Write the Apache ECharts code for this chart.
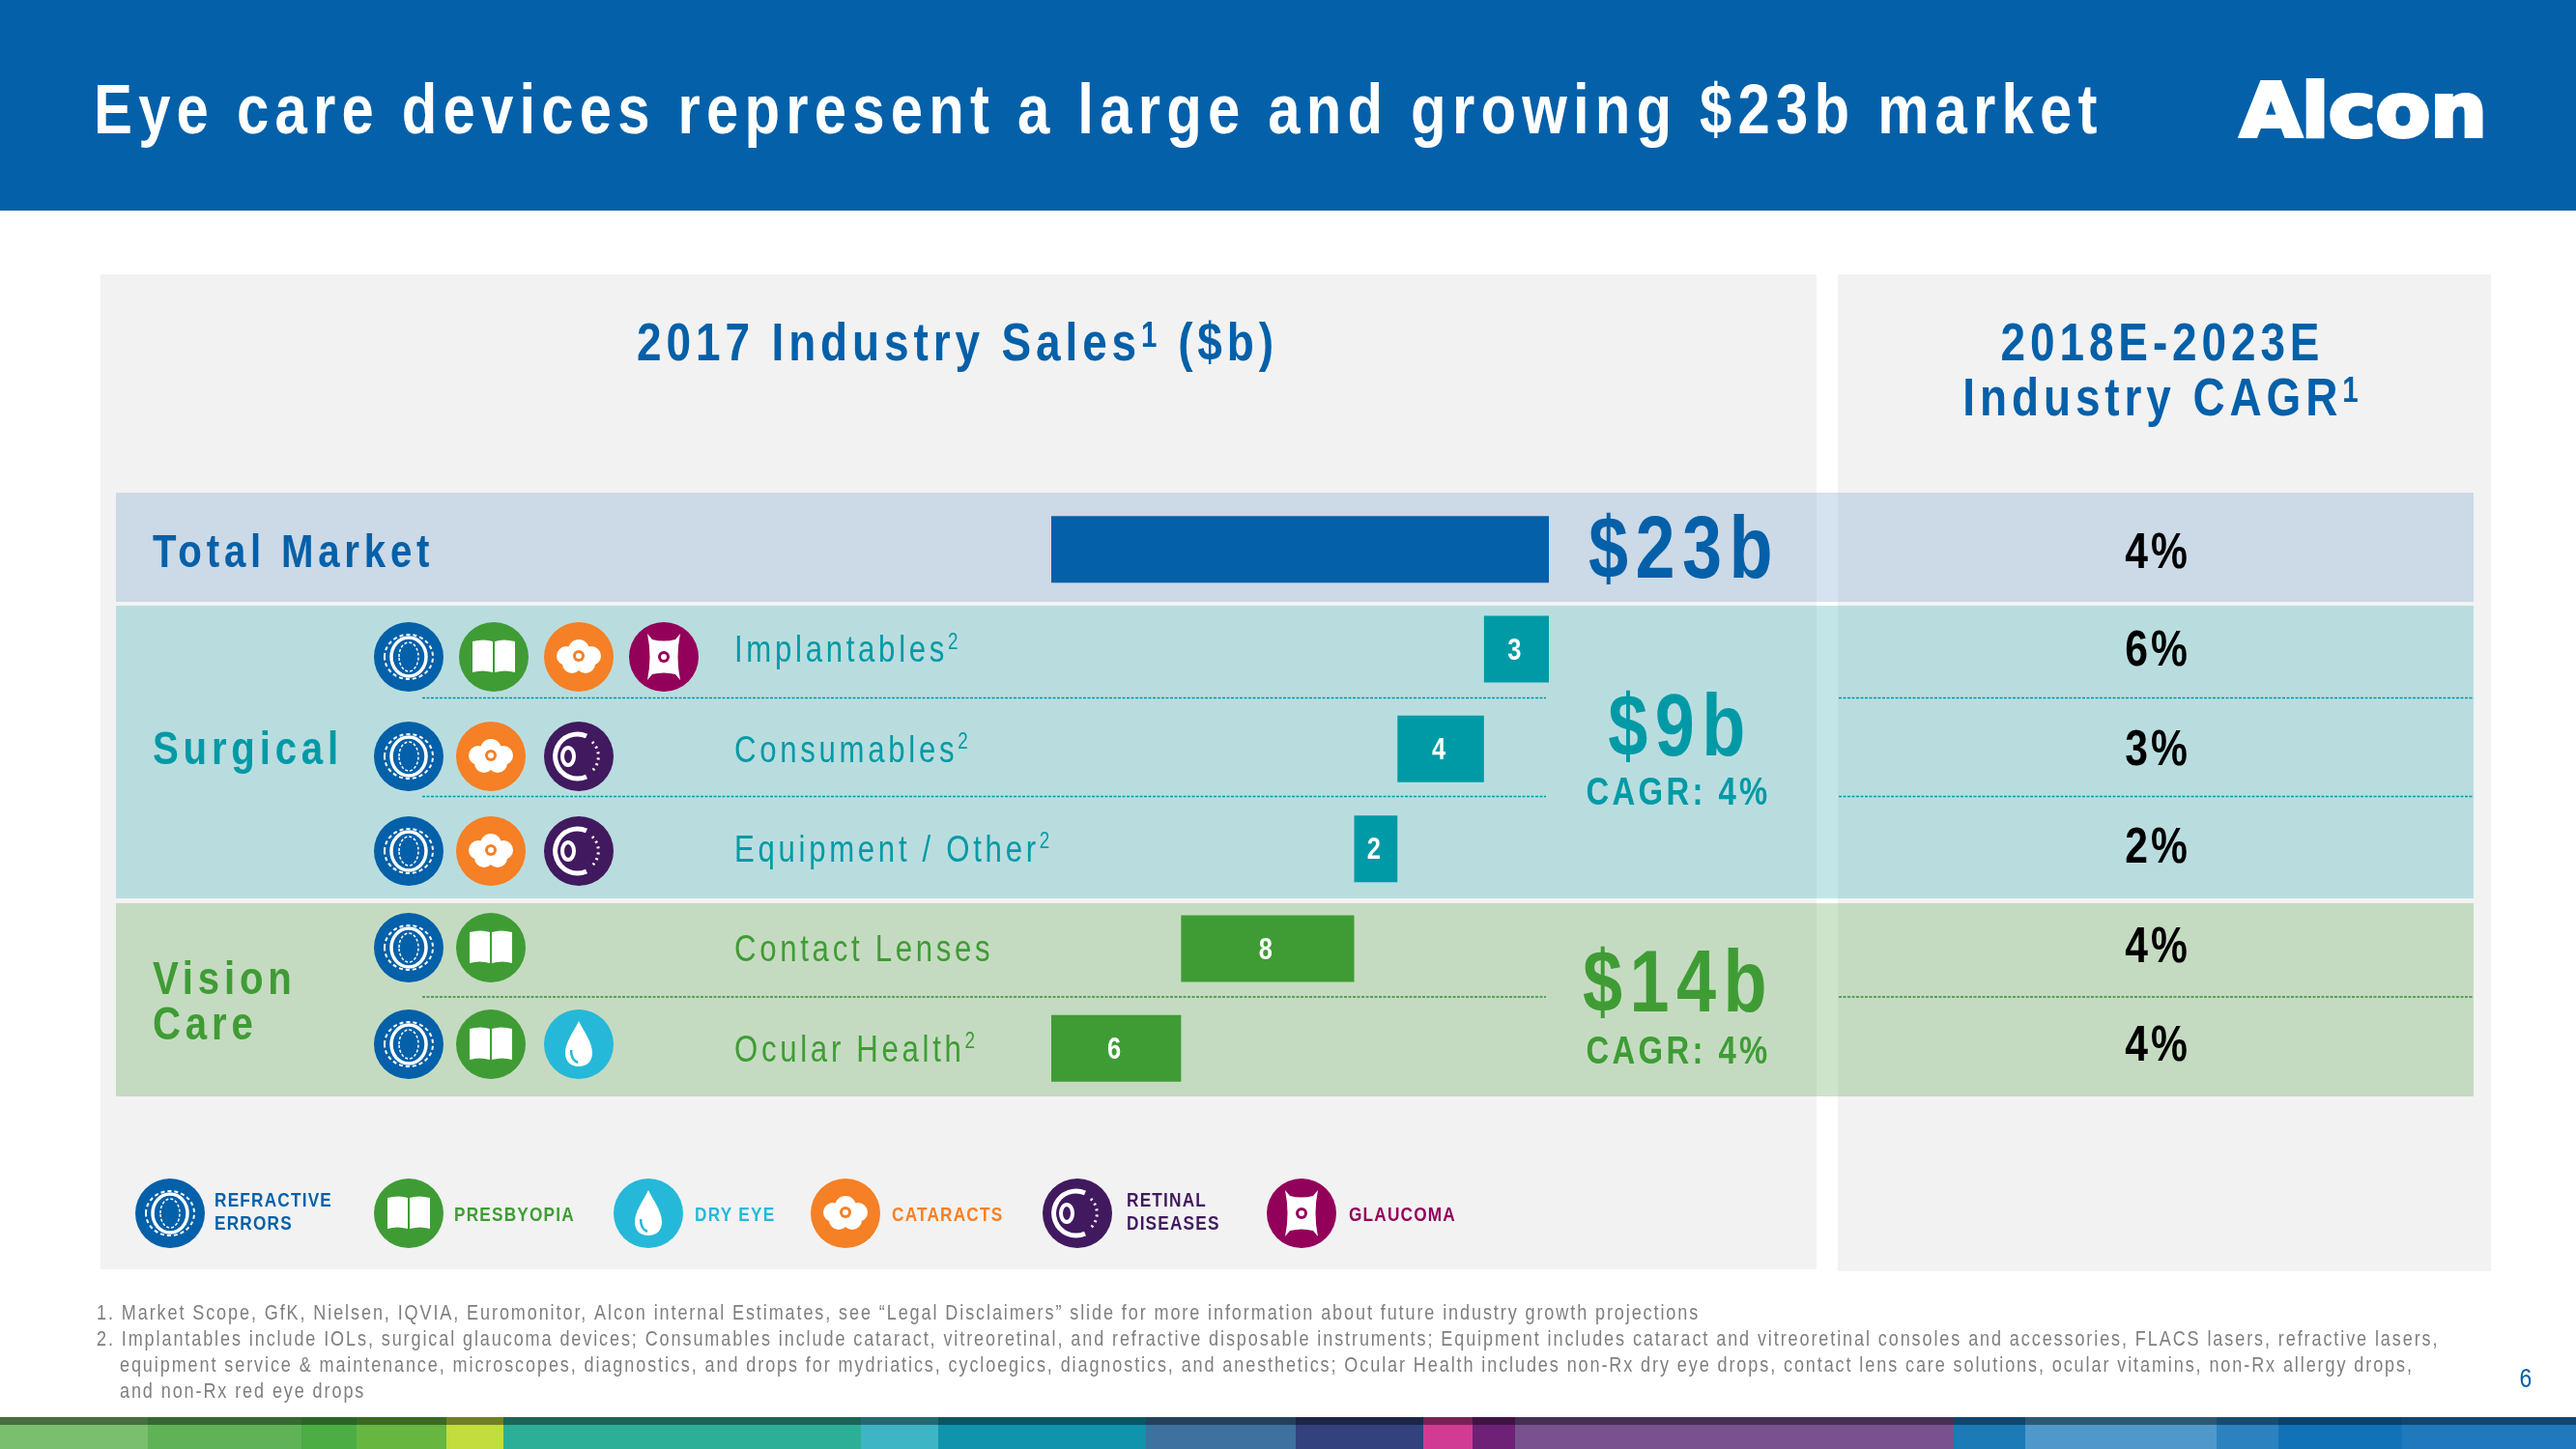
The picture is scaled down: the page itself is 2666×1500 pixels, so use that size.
<!DOCTYPE html>
<html><head><meta charset="utf-8">
<style>html,body{margin:0;padding:0;background:#fff}#c{width:2666px;height:1500px}</style>
<script>
// reference type is a narrow Arial, letter-spaced: condense Liberation Sans and track by font size
(function(){
  var p=CanvasRenderingContext2D.prototype, K=0.82;
  var TRACK={22:1.9,21:1.2,49:4.8,73:6.2,90:7.5,40:3.4,38:3.7,31:0,52:3,56:4.9,36:4,28:0,23:0};
  function set(ctx){
    var m=/([\d.]+)px/.exec(ctx.font), s=m?Math.round(parseFloat(m[1])):0;
    ctx.letterSpacing=((TRACK[s]||0)/K).toFixed(2)+'px';
  }
  function raw(ctx){return /DejaVu/.test(ctx.font);}
  var ft=p.fillText, mt=p.measureText;
  p.fillText=function(t,x,y){
    if(raw(this)){this.letterSpacing='0px';return ft.call(this,t,x,y);}
    this.save();this.translate(x,y);this.scale(K,1);set(this);ft.call(this,t,0,0);this.restore();
  };
  p.measureText=function(t){
    if(raw(this)){this.letterSpacing='0px';return mt.call(this,t);}
    set(this);var r=mt.call(this,t);
    return {width:r.width*K,actualBoundingBoxAscent:r.actualBoundingBoxAscent,actualBoundingBoxDescent:r.actualBoundingBoxDescent,actualBoundingBoxLeft:r.actualBoundingBoxLeft*K,actualBoundingBoxRight:r.actualBoundingBoxRight*K,fontBoundingBoxAscent:r.fontBoundingBoxAscent,fontBoundingBoxDescent:r.fontBoundingBoxDescent};
  };
})();
</script>
<script src="https://cdn.jsdelivr.net/npm/echarts@6/dist/echarts.min.js"></script>
</head><body><div id="c"></div>
<script>
const rowNames=['Total Market','Implantables','Consumables','Equipment / Other','Contact Lenses','Ocular Health'];
const rowSup=['','2','2','2','','2'];
const salesB=[23,3,4,2,8,6];
const cagrLabels=['4%','6%','3%','2%','4%','4%'];
const rowGroup=[0,1,1,1,2,2];
const rowIcons=[[],['ref','pres','cat','gla'],['ref','cat','ret'],['ref','cat','ret'],['ref','pres'],['ref','pres','dry']];
const legendItems=[['ref',['REFRACTIVE','ERRORS']],['pres',['PRESBYOPIA']],['dry',['DRY EYE']],['cat',['CATARACTS']],['ret',['RETINAL','DISEASES']],['gla',['GLAUCOMA']]];
const groupTotals=[['$23b',''],['$9b','CAGR: 4%'],['$14b','CAGR: 4%']];
const footnotes=[
 '1. Market Scope, GfK, Nielsen, IQVIA, Euromonitor, Alcon internal Estimates, see “Legal Disclaimers” slide for more information about future industry growth projections',
 '2. Implantables include IOLs, surgical glaucoma devices; Consumables include cataract, vitreoretinal, and refractive disposable instruments; Equipment includes cataract and vitreoretinal consoles and accessories, FLACS lasers, refractive lasers,',
 'equipment service & maintenance, microscopes, diagnostics, and drops for mydriatics, cycloegics, diagnostics, and anesthetics; Ocular Health includes non-Rx dry eye drops, contact lens care solutions, ocular vitamins, non-Rx allergy drops,',
 'and non-Rx red eye drops'];
const strip=[[0,153,'#7ABF6E'],[153,312,'#5FB356'],[312,369,'#4BAD44'],[369,462,'#66B640'],[462,521,'#C3DC3E'],[521,891,'#2DAE97'],[891,971,'#3EB5C4'],[971,1186,'#1094AE'],[1186,1341,'#3F719E'],[1341,1473,'#33417F'],[1473,1524,'#D13B93'],[1524,1568,'#6E2177'],[1568,2022,'#79518F'],[2022,2096,'#1C7AB7'],[2096,2294,'#4F98CB'],[2294,2358,'#2C82BE'],[2358,2486,'#1172B7'],[2486,2666,'#2079BC']];

const BLUE='#0460A9',TEAL='#009AA6',GREEN='#3F9C35',ORANGE='#F58025',PURPLE='#41195F',MAGENTA='#93005A',CYAN='#26B8D9';
const groupColor=[BLUE,TEAL,GREEN];
const SANS='"Liberation Sans",Arial,sans-serif';

const reg=(n,d)=>echarts.graphic.registerShape(n,echarts.graphic.extendPath(d,{}));
reg('iconBook','M-22,-16 Q-10,-19 -1,-16 L-1,16 Q-12,13 -22,16 Z M1,-16 Q10,-19 22,-16 L22,16 Q12,13 1,16 Z');
reg('iconDrop','M0,-24 C6,-12 14,-2 14,9 C14,18 8,23 0,23 C-8,23 -14,18 -14,9 C-14,-2 -6,-12 0,-24 Z');
reg('iconDropLine','M-8,6 C-8,12 -6,17 -1,19');
reg('iconRetA','M8,-21 A23,23 0 1 0 8,21');
reg('iconRetB','M14,-15 A21,21 0 0 1 14,15');
reg('iconGla','M-17,-24 L-12,-18 Q0,-15 12,-18 L17,-24 Q12,0 17,24 L12,18 Q0,15 -12,18 L-17,24 Q-12,0 -17,-24 Z');

// waterfall offsets: each step sits on the sum of the steps after it
const offsets=salesB.map((v,i)=>i===0?0:salesB.slice(i+1).reduce((a,b)=>a+b,0));

function rect(x,y,w,h,fill,z){return {type:'rect',z:z,silent:true,shape:{x,y,width:w,height:h},style:{fill}};}
function txt(x,y,text,size,fill,weight,align){
  return {type:'text',z:20,silent:true,style:{x,y,text,fill,align:align||'left',verticalAlign:'middle',font:(weight||'normal')+' '+size+'px '+SANS}};
}
function dash(x1,x2,y,c){return {type:'line',z:5,silent:true,shape:{x1,y1:y,x2,y2:y},style:{stroke:c,lineWidth:1.3,lineDash:[3,1.5]}};}
function iconOf(kind,x,y){
  const W='#fff',k=[];
  const ell=(rx,ry,lw,d,cx)=>({type:'ellipse',shape:{cx:cx||0,cy:0,rx,ry},style:{fill:null,stroke:W,lineWidth:lw,lineDash:d||null}});
  const ci=(cx,cy,r,f)=>({type:'circle',shape:{cx,cy,r},style:{fill:f||W}});
  let bg;
  if(kind==='ref'){bg=BLUE;k.push(ell(25,23,2,[4,3]),ell(18,20,3.5),ell(10,15,1.5,[3,2]));}
  if(kind==='pres'){bg=GREEN;k.push({type:'iconBook',shape:{},style:{fill:W}});}
  if(kind==='dry'){bg=CYAN;k.push({type:'iconDrop',shape:{},style:{fill:W}},{type:'iconDropLine',shape:{},style:{fill:null,stroke:CYAN,lineWidth:2.5}});}
  if(kind==='cat'){bg=ORANGE;k.push(ci(0,-7,11),ci(-13,-1,10),ci(13,-1,10),ci(-7,7,10),ci(7,7,10),ci(0,0,12),ci(0,-1,6,ORANGE),ci(0,-1,3,W));}
  if(kind==='ret'){bg=PURPLE;k.push({type:'iconRetA',shape:{},style:{fill:null,stroke:W,lineWidth:5}},{type:'iconRetB',shape:{},style:{fill:null,stroke:W,lineWidth:3,lineDash:[2,4]}},ell(6,9,4,null,-11));}
  if(kind==='gla'){bg=MAGENTA;k.push({type:'iconGla',shape:{},style:{fill:W}},ci(0,0,6,MAGENTA),ci(0,0,3,W));}
  k.unshift({type:'circle',shape:{cx:0,cy:0,r:36},style:{fill:bg}});
  k.forEach(e=>{e.z=12;e.silent=true;});
  return {type:'group',x,y,children:k};
}

const G=[];
// header
G.push(rect(0,0,2666,218,BLUE,-5));
G.push(txt(97,118,'Eye care devices represent a large and growing $23b market',73,'#fff','bold'));
G.push({type:'text',z:20,silent:true,x:2446,y:121,scaleX:1.08,style:{x:0,y:0,text:'Alcon',fill:'#fff',stroke:'#fff',lineWidth:4,align:'center',verticalAlign:'middle',font:'bold 76px "DejaVu Sans"'}});
// panels
G.push(rect(104,284,1776,1030,'#F2F2F2',-5),rect(1902,284,676,1032,'#F2F2F2',-5));
// bands
G.push(rect(120,510,2440,113,'rgba(115,158,203,0.3)',-4),rect(120,627,2440,303,'rgba(79,182,188,0.35)',-4),rect(120,935,2440,200,'rgba(93,167,80,0.3)',-4));
// dashed separators
[[722.5,TEAL],[824.5,TEAL]].forEach(d=>G.push(dash(437,1600,d[0],d[1]),dash(1903,2560,d[0],d[1])));
G.push(dash(437,1600,1032,'#3B8A3B'),dash(1903,2560,1032,'#3B8A3B'));
// column titles
function supTitle(x,y,a,s,b){
  return {type:'text',z:20,silent:true,style:{x,y,align:'center',verticalAlign:'middle',text:'{a|'+a+'}{s|'+s+'}'+(b?'{a|'+b+'}':''),
    rich:{a:{font:'bold 56px '+SANS,fill:BLUE,color:BLUE},s:{font:'bold 36px '+SANS,fill:BLUE,color:BLUE,verticalAlign:'top',padding:[0,0,8,0]}}}};
}
G.push(supTitle(991,358,'2017 Industry Sales','1',' ($b)'));
G.push(txt(2238,358,'2018E-2023E',56,BLUE,'bold','center'));
G.push(supTitle(2238,415,'Industry CAGR','1'));
// group labels
G.push(txt(158,573,'Total Market',49,BLUE,'bold'));
G.push(txt(158,777,'Surgical',49,TEAL,'bold'));
G.push(txt(158,1015,'Vision',49,GREEN,'bold'));
G.push(txt(158,1062,'Care',49,GREEN,'bold'));
// group totals
const totalY=[[573,0],[757,822],[1022,1090]],totalX=[1743,1739,1737];
groupTotals.forEach((g,i)=>{
  G.push(txt(totalX[i],totalY[i][0],g[0],90,groupColor[i],'bold','center'));
  if(g[1])G.push(txt(1737,totalY[i][1],g[1],40,groupColor[i],'bold','center'));
});
// row icons
const iconY=[0,680,783,881,981,1081];
const iconX=[[],[423,511,599,687],[423,508,599],[423,508,599],[423,508],[423,508,599]];
rowIcons.forEach((r,i)=>r.forEach((k,j)=>G.push(iconOf(k,iconX[i][j],iconY[i]))));
// legend
const legX=[176,423,671,875,1115,1347],legT=[222,470,719,923,1166,1396];
const legC={ref:BLUE,pres:GREEN,dry:CYAN,cat:ORANGE,ret:PURPLE,gla:MAGENTA};
legendItems.forEach((l,i)=>{
  G.push(iconOf(l[0],legX[i],1256));
  const ys=l[1].length===2?[1243,1267]:[1258];
  l[1].forEach((t,j)=>G.push(txt(legT[i],ys[j],t,21,legC[l[0]],'bold')));
});
// footnotes
const FN=[[100,1360],[100,1387],[124,1414],[124,1441]];
footnotes.forEach((t,i)=>G.push(txt(FN[i][0],FN[i][1],t,22,'#7F7F7F')));
G.push(txt(2614,1428,'6',28,BLUE,'normal','center'));
// bottom strip
strip.forEach(s=>G.push(rect(s[0],1467,s[1]-s[0],33,s[2],-5)));
G.push(rect(0,1467,2666,8,'rgba(0,0,0,0.42)',-4));

const rich={};
groupColor.forEach((c,i)=>{
  rich['t'+i]={fontFamily:SANS,fontSize:38,color:c};
  rich['s'+i]={fontFamily:SANS,fontSize:23,color:c,verticalAlign:'top',lineHeight:38,padding:[0,0,6,0]};
});
const cagrPad=[[10,0,0,0],[6,0,0,0],[4,0,0,0],[0,0,0,0],[0,0,0,0],[0,0,3,0]];
const cagrRich={};
cagrPad.forEach((p,i)=>{cagrRich['r'+i]={fontFamily:SANS,fontWeight:'bold',fontSize:52,color:'#000',padding:p};});

const chart=echarts.init(document.getElementById('c'),null,{renderer:'canvas',width:2666,height:1500});
chart.setOption({
  animation:false,backgroundColor:'#fff',
  grid:{left:1088,top:517,width:515,height:620,containLabel:false},
  xAxis:{type:'value',min:0,max:23,show:false},
  yAxis:[
   {type:'category',inverse:true,data:rowNames,axisLine:{show:false},axisTick:{show:false},splitLine:{show:false},
    axisLabel:{margin:328,align:'left',interval:0,padding:[6,0,0,0],formatter:(v,i)=>i===0?'':'{t'+rowGroup[i]+'|'+v+'}'+(rowSup[i]?'{s'+rowGroup[i]+'|'+rowSup[i]+'}':''),rich}},
   {type:'category',inverse:true,position:'right',data:cagrLabels,axisLine:{show:false},axisTick:{show:false},splitLine:{show:false},
    axisLabel:{margin:630,align:'center',interval:0,formatter:(v,i)=>'{r'+i+'|'+v+'}',rich:cagrRich}}
  ],
  series:[
   {type:'bar',stack:'w',silent:true,barWidth:69,itemStyle:{color:'transparent'},data:offsets},
   {type:'bar',stack:'w',silent:true,barWidth:69,
    data:salesB.map((v,i)=>({value:v,itemStyle:{color:groupColor[rowGroup[i]]}})),
    label:{show:true,position:'inside',offset:[-2,2],color:'#fff',fontFamily:SANS,fontWeight:'bold',fontSize:31,
      formatter:p=>p.dataIndex===0?'':String(p.value)}}
  ],
  graphic:{elements:G}
});
</script></body></html>
